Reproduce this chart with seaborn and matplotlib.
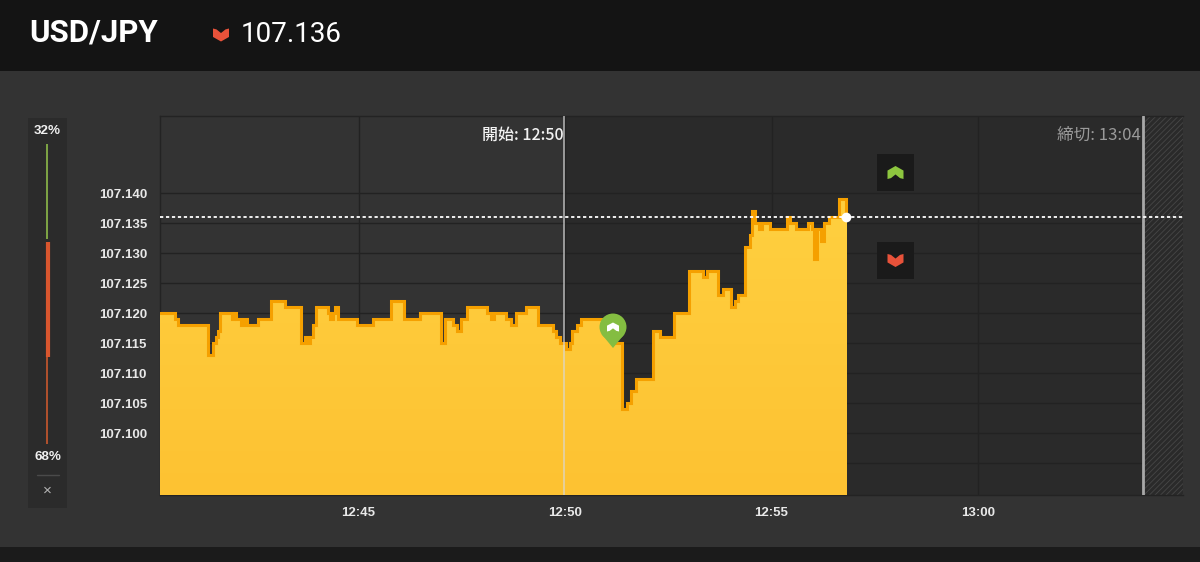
import numpy as np
import pandas as pd
import seaborn as sns
import matplotlib
matplotlib.use("Agg")
import matplotlib.pyplot as plt
from matplotlib.patches import Rectangle, Polygon, Circle

# minutes after 12:00
times = [40.19,40.55,40.63,41.35,41.42,41.47,41.55,41.59,41.64,41.93,41.98,42.03,42.08,42.15,42.22,42.30,42.51,42.56,
         42.88,43.22,43.60,43.70,43.78,43.82,43.89,43.97,44.26,44.31,44.38,44.43,44.50,44.96,45.35,45.79,46.10,46.49,
         46.99,47.09,47.28,47.38,47.48,47.62,47.98,48.10,48.22,48.29,48.58,48.70,48.82,49.06,49.34,49.71,49.79,49.88,
         50.03,50.12,50.17,50.29,50.38,50.94,51.04,51.14,51.38,51.50,51.60,51.72,52.13,52.30,52.64,53.00,53.34,53.44,
         53.70,53.82,54.01,54.11,54.20,54.37,54.47,54.52,54.59,54.69,54.76,54.96,55.37,55.46,55.59,55.88,55.97,56.02,
         56.09,56.19,56.27,56.39,56.63,56.80,56.82]
prices = [107.120,107.119,107.118,107.113,107.113,107.115,107.116,107.117,107.120,107.119,107.120,107.119,107.119,107.118,107.119,107.118,107.118,107.119,
          107.122,107.121,107.115,107.116,107.115,107.116,107.118,107.121,107.120,107.119,107.120,107.121,107.119,107.118,107.119,107.122,107.119,107.120,
          107.115,107.119,107.118,107.117,107.119,107.121,107.121,107.120,107.119,107.120,107.119,107.118,107.120,107.121,107.118,107.117,107.116,107.115,
          107.114,107.115,107.117,107.118,107.119,107.118,107.116,107.115,107.104,107.105,107.107,107.109,107.117,107.116,107.120,107.127,107.126,107.127,
          107.123,107.124,107.121,107.122,107.123,107.131,107.133,107.137,107.135,107.134,107.135,107.134,107.136,107.135,107.134,107.135,107.134,107.129,
          107.134,107.132,107.135,107.136,107.139,107.136,107.136]
y_ticks = [107.140,107.135,107.130,107.125,107.120,107.115,107.110,107.105,107.100]
x_ticks = [45,50,55,60]
x_labels = ["12:45","12:50","12:55","13:00"]
current_price = 107.136
start_min = 50
close_min = 64
up_pct, down_pct = 32, 68

sns.set_theme(style="dark")
plt.rcParams['font.family'] = ['Liberation Sans', 'Noto Sans CJK JP', 'DejaVu Sans']
plt.rcParams['hatch.linewidth'] = 0.6
W, H = 1200, 562
fig = plt.figure(figsize=(W/100, H/100), dpi=100, facecolor="#333333")
df = pd.DataFrame({"t": times, "p": prices})

# backdrop bands
bg = fig.add_axes([0, 0, 1, 1], zorder=0)
bg.set_xlim(0, W); bg.set_ylim(H, 0); bg.axis("off")
bg.add_patch(Rectangle((0, 0), W, 71, color="#141414", lw=0))
bg.add_patch(Rectangle((0, 547), W, 15, color="#1b1b1b", lw=0))
bg.add_patch(Rectangle((28, 118), 39, 390, color="#2b2b2b", lw=0))

L, R, T, B = 160, 1183, 116, 495
ax = fig.add_axes([L/W, 1-B/H, (R-L)/W, (B-T)/H], zorder=1)
ax.set_facecolor("#333333")
x0 = 45+(L-358.5)/41.3; x1 = 45+(R-358.5)/41.3
ax.set_xlim(x0, x1)
ax.set_ylim(107.140-(B-193)/6000, 107.140+(193-T)/6000)
ax.axvspan(start_min, x1, color="#2a2a2a", lw=0, zorder=0)
ax.axvspan(close_min, x1, facecolor="#2a2a2a", edgecolor="#474747", hatch="//////", lw=0, zorder=1.5)
ax.grid(False)
for yy in y_ticks + [107.095]:
    ax.axhline(yy, color="#222222", lw=1, zorder=1)
for xx in x_ticks:
    ax.axvline(xx, color="#222222", lw=1, zorder=1)

# gradient fill clipped to area under the line
poly = ax.fill_between(times, prices, ax.get_ylim()[0], step="post", color="none", lw=0, zorder=2)
grad = np.linspace(0, 1, 256).reshape(-1, 1, 1)
c_top = np.array([0xFF, 0xD0, 0x40])/255; c_bot = np.array([0xFD, 0xC2, 0x32])/255
img = c_top + (c_bot-c_top)*grad
im = ax.imshow(img, extent=[x0, x1, ax.get_ylim()[0], 107.140], aspect="auto", zorder=2.1)
path = poly.get_paths()[0]
im.set_clip_path(path, transform=ax.transData)
ax.set_xlim(x0, x1)
ax.set_ylim(107.140-(B-193)/6000, 107.140+(193-T)/6000)

sns.lineplot(data=df, x="t", y="p", estimator=None, sort=False, drawstyle="steps-post",
             color="#F5A000", lw=2.2, ax=ax, zorder=3, solid_joinstyle="miter")

ax.axvline(start_min-0.02, color="#d8d8d8", lw=1.1, alpha=0.8, zorder=4)
ax.axvline(close_min, color="#a8a8a8", lw=2, zorder=4)
ax.axhline(current_price, color="white", lw=1.3, ls=(0, (1.8, 1.5)), zorder=5)
ax.plot([times[-1]-0.02], [current_price], "o", color="white", ms=7, mew=0, zorder=6, clip_on=False)

ax.set_xticks(x_ticks, x_labels)
ax.set_yticks(y_ticks, [f"{v:.3f}" for v in y_ticks])
ax.set_xlabel(""); ax.set_ylabel("")
ax.tick_params(axis="both", length=0, labelcolor="#e8e8e8", labelsize=9.5)
for lb in ax.get_xticklabels() + ax.get_yticklabels():
    lb.set_fontweight("bold")
ax.tick_params(axis="y", pad=9.4)
ax.tick_params(axis="x", pad=9)
ax.set_axisbelow(True)
for s in ax.spines.values():
    s.set_color("#232323"); s.set_linewidth(1); s.set_visible(True); s.set_zorder(1.8)
ax.spines["right"].set_visible(False)

ax.text(start_min-0.03, 107.1497, "開始: 12:50", color="#f2f2f2", fontsize=11.5, fontweight="medium",
        ha="right", va="center", zorder=7, fontfamily=['Noto Sans CJK JP', 'DejaVu Sans'])
ax.text(close_min-0.05, 107.1497, "締切: 13:04", color="#9a9a9a", fontsize=12,
        ha="right", va="center", zorder=7, fontfamily=['Noto Sans CJK JP', 'DejaVu Sans'])

# overlay in figure pixels: header, gauge, buttons, pin
ov = fig.add_axes([0, 0, 1, 1], zorder=2)
ov.set_xlim(0, W); ov.set_ylim(H, 0); ov.axis("off"); ov.patch.set_alpha(0)

def chevron(cx, cy, w, h, color, up):
    d = h*0.35
    s = -1 if up else 1
    pts = [(cx-w/2, cy-s*h/2), (cx-w/2+w*0.22, cy-s*h/2+s*d*0.2), (cx, cy-s*h/2+s*d), (cx+w/2-w*0.22, cy-s*h/2+s*d*0.2),
           (cx+w/2, cy-s*h/2), (cx+w/2, cy+s*(h/2-d)), (cx, cy+s*h/2), (cx-w/2, cy+s*(h/2-d))]
    ov.add_patch(Polygon(pts, closed=True, color=color, lw=0, zorder=8))

ov.text(29, 32, "USD/JPY", color="white", fontsize=22.5, fontweight="bold", family="Roboto", va="center", ha="left")
ov.text(241, 34, "107.136", color="white", fontsize=20, family="Roboto", va="center", ha="left")
chevron(221, 35, 16, 13, "#E8523A", False)

# gauge
ov.text(47.5, 131, f"{up_pct}%", color="#f0f0f0", fontsize=9.6, fontweight="bold", ha="center", va="center")
ov.text(47.5, 457, f"{down_pct}%", color="#f0f0f0", fontsize=9.6, fontweight="bold", ha="center", va="center")
g_top, g_len = 144, 300
g_mid = g_top + g_len*up_pct/100
ov.plot([47, 47], [g_top, g_mid-1], color="#8DBB4A", lw=1.2, solid_capstyle="butt")
ov.plot([47.5, 47.5], [g_mid+2, 357], color="#D9562E", lw=3, solid_capstyle="butt")
ov.plot([47, 47], [357, g_top+g_len], color="#C9582E", lw=1.2, solid_capstyle="butt")
ov.plot([37, 59], [474.5, 474.5], color="#4a4a4a", lw=1)
ov.text(47.5, 490.5, "×", color="#b5b5b5", fontsize=11, ha="center", va="center")

# buttons
for by, col, up in [(154, "#8DC63F", True), (242, "#E8523A", False)]:
    ov.add_patch(Rectangle((877, by), 37, 37, color="#1a1a1a", lw=0, zorder=7))
    chevron(895.5, by+18.5, 16, 13, col, up)

# entry pin
ov.add_patch(Polygon([(601.5, 334), (613, 348), (624.5, 334)], closed=True, color="#84BD41", lw=0, zorder=8))
ov.add_patch(Circle((613, 327), 13.5, color="#84BD41", lw=0, zorder=8))
chevron(613, 327, 12, 9, "white", True)

fig.savefig("out.png", dpi=100, facecolor=fig.get_facecolor())
